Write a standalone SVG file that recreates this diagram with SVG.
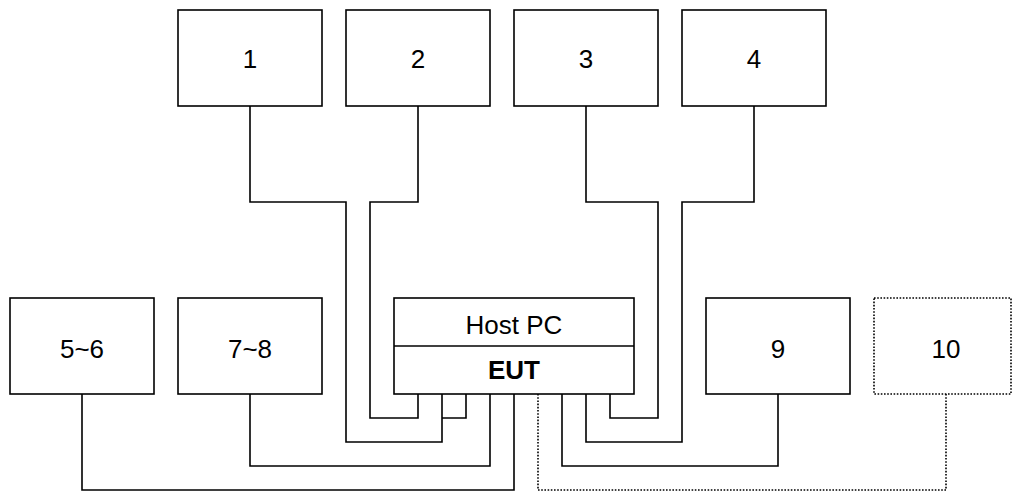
<svg xmlns="http://www.w3.org/2000/svg" width="1013" height="492" viewBox="0 0 1013 492">
<style>
.box{fill:#fff;stroke:#000;stroke-width:1.6}
.dot{fill:#fff;stroke:#000;stroke-width:1.6;stroke-dasharray:1.6 1.6}
.lbl{font-family:"Liberation Sans",Arial,sans-serif;font-size:26px;fill:#000;text-anchor:middle}
.w{fill:none;stroke:#000;stroke-width:1.6}
.wd{fill:none;stroke:#000;stroke-width:1.6;stroke-dasharray:1.6 1.6}
</style>
<rect width="1013" height="492" fill="#fff"/>
<g id="connectors">
<path class="w" d="M250,106V202H346V442H442V394"/>
<path class="w" d="M418,106V202H370V418H418V394"/>
<path class="w" d="M442,418H466V394"/>
<path class="w" d="M250,394V466H490V394"/>
<path class="w" d="M82,394V490H514V394"/>
<path class="wd" d="M538,394V490H946V394"/>
<path class="w" d="M778,394V466H562V394"/>
<path class="w" d="M586,106V202H658V418H610V394"/>
<path class="w" d="M754,106V202H682V442H586V394"/>
</g>
<g id="n1"><rect class="box" x="178" y="10" width="144" height="96"/><text class="lbl" x="250" y="67.5">1</text></g>
<g id="n2"><rect class="box" x="346" y="10" width="144" height="96"/><text class="lbl" x="418" y="67.5">2</text></g>
<g id="n3"><rect class="box" x="514" y="10" width="144" height="96"/><text class="lbl" x="586" y="67.5">3</text></g>
<g id="n4"><rect class="box" x="682" y="10" width="144" height="96"/><text class="lbl" x="754" y="67.5">4</text></g>
<g id="n56"><rect class="box" x="10" y="298" width="144" height="96"/><text class="lbl" x="82" y="357.5">5~6</text></g>
<g id="n78"><rect class="box" x="178" y="298" width="144" height="96"/><text class="lbl" x="250" y="357.5">7~8</text></g>
<g id="host"><rect class="box" x="394" y="298" width="240" height="96"/><line class="w" x1="394" y1="346" x2="634" y2="346"/><text class="lbl" x="514" y="334">Host PC</text><text class="lbl" x="514" y="379" font-weight="bold">EUT</text></g>
<g id="n9"><rect class="box" x="706" y="298" width="144" height="96"/><text class="lbl" x="778" y="357.5">9</text></g>
<g id="n10"><rect class="dot" x="874" y="298" width="137" height="96"/><text class="lbl" x="946" y="357.5">10</text></g>
</svg>
